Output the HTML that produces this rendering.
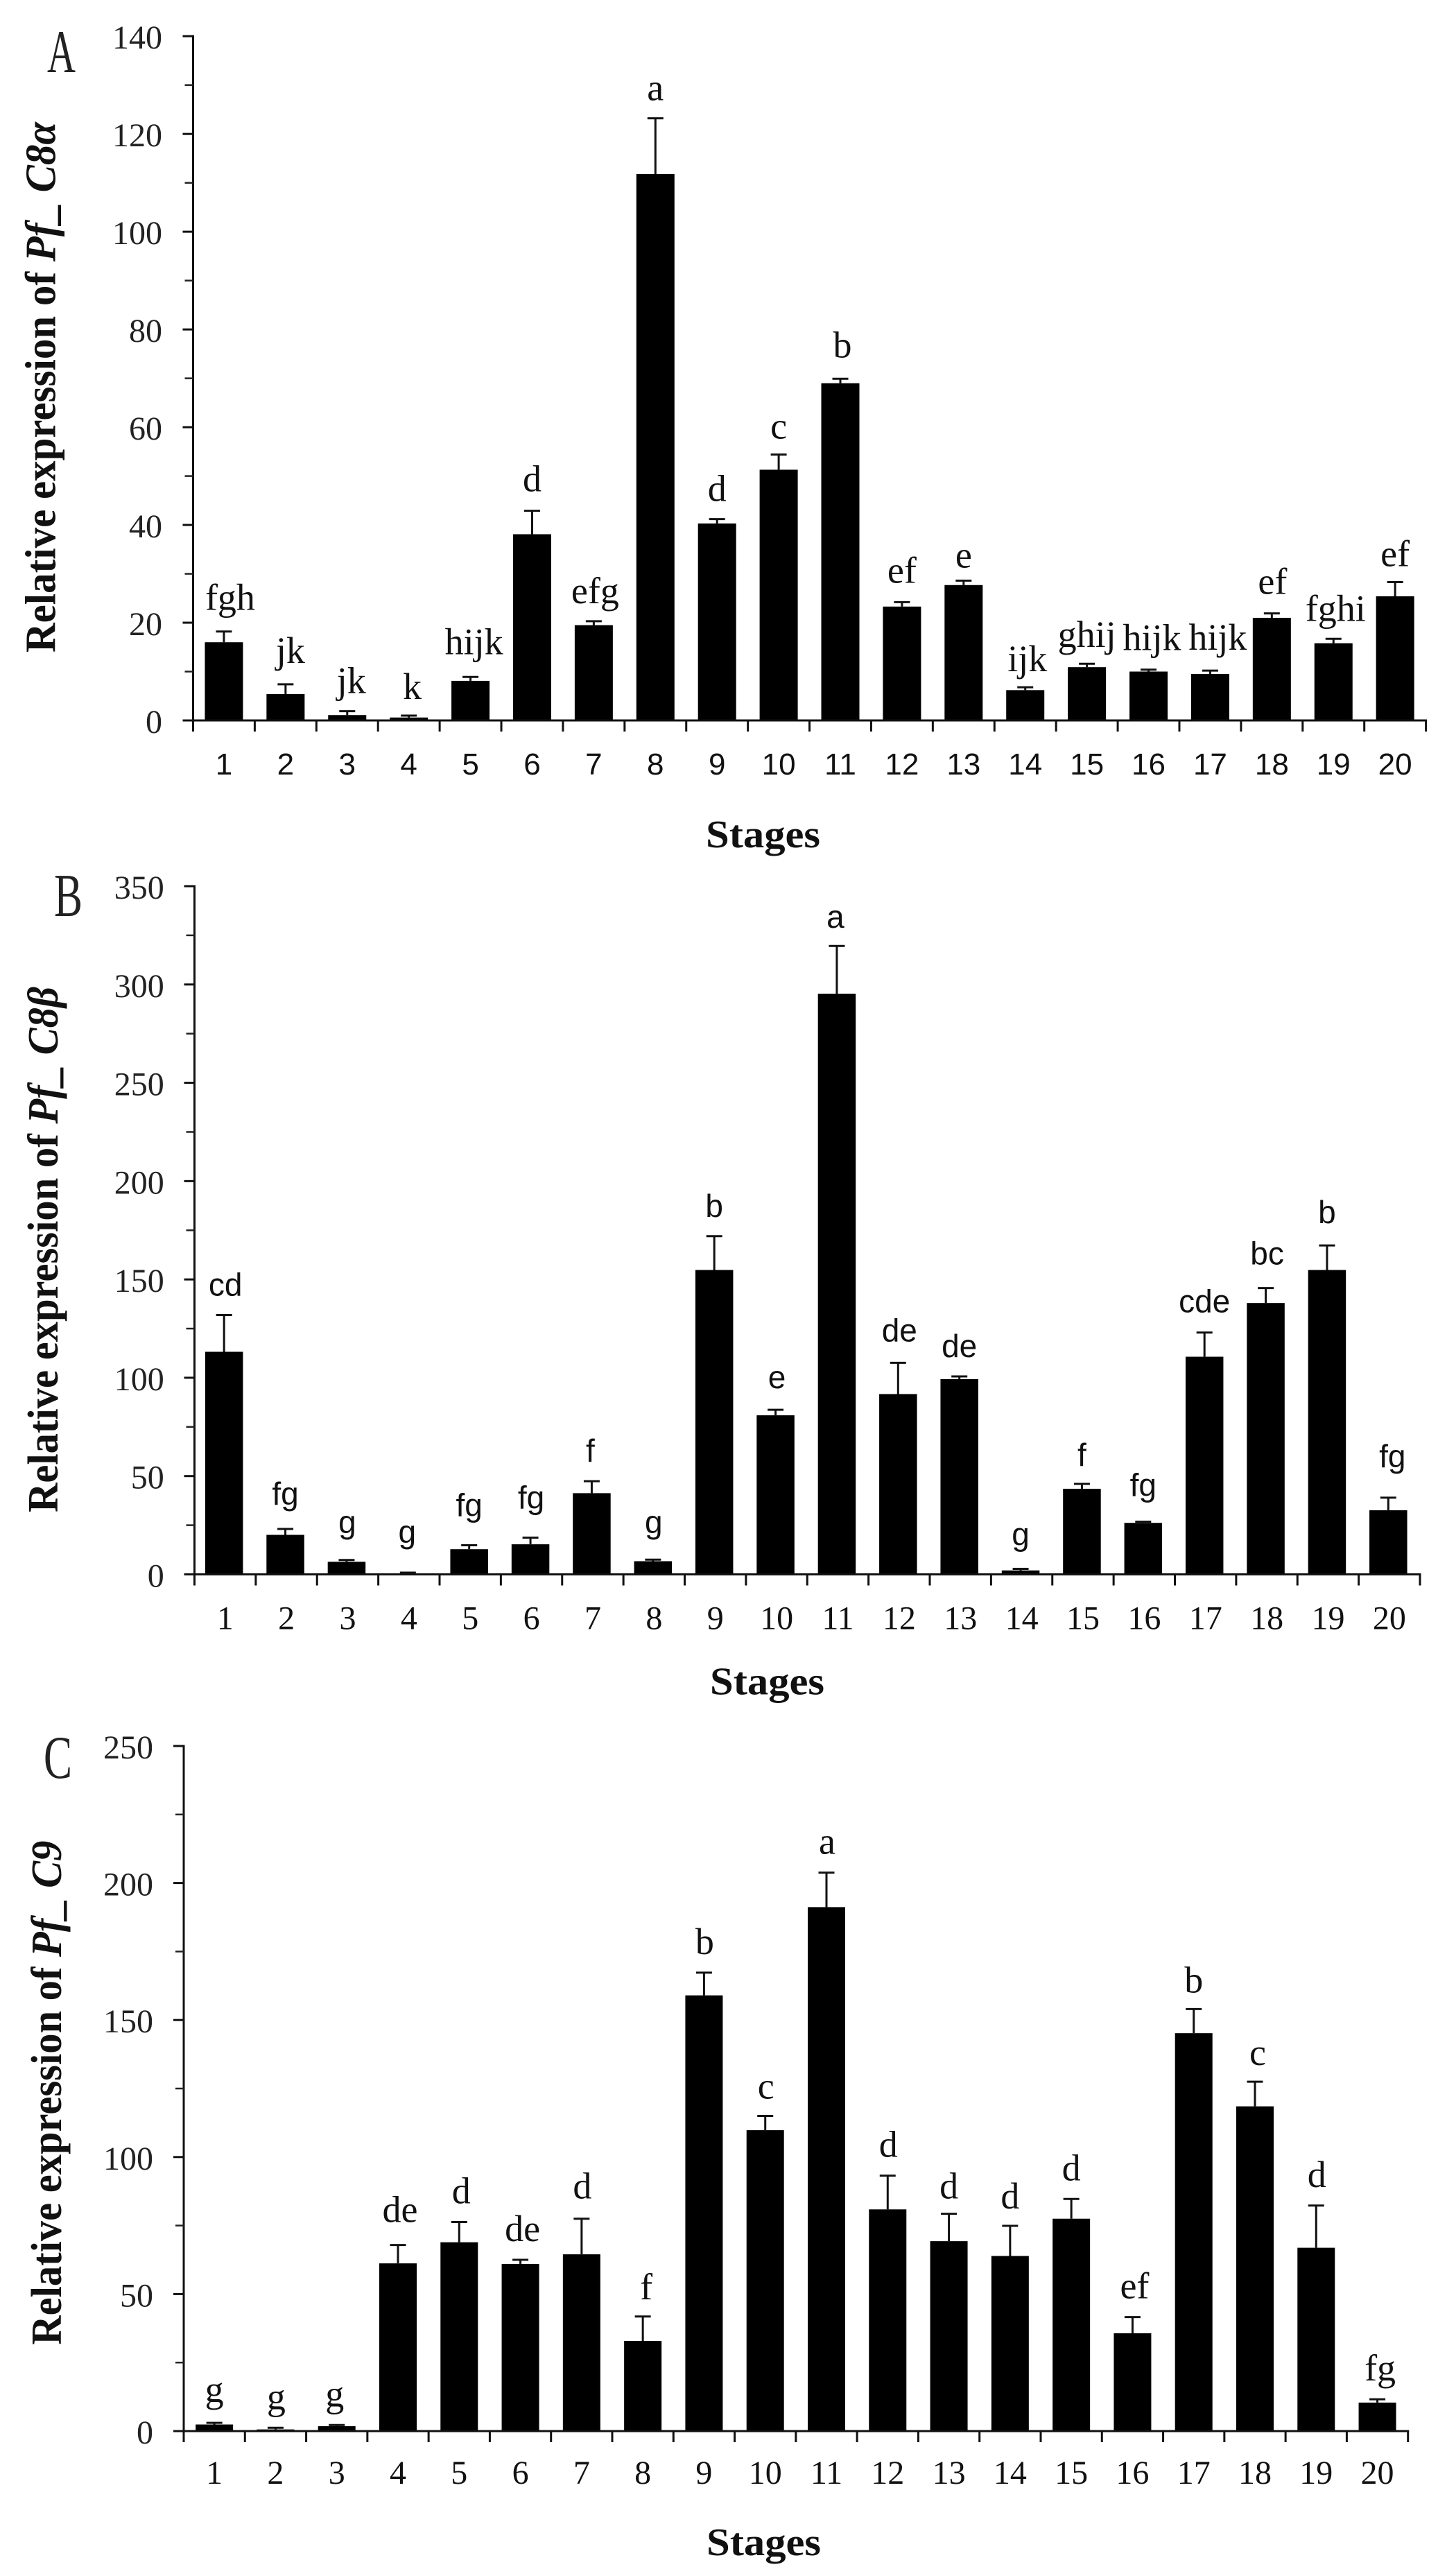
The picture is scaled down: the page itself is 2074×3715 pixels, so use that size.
<!DOCTYPE html>
<html lang="en">
<head>
<meta charset="utf-8">
<title>Relative expression of Pf_C8α, Pf_C8β and Pf_C9 across stages</title>
<style>
html,body{margin:0;padding:0;background:#fff;}
svg{display:block;}
</style>
</head>
<body>
<svg id="figure" xmlns="http://www.w3.org/2000/svg" width="2074" height="3715" viewBox="0 0 2074 3715"></svg>
<script>
const stages = ['1','2','3','4','5','6','7','8','9','10','11','12','13','14','15','16','17','18','19','20'];

const yTicksA = [0,20,40,60,80,100,120,140];
const valuesA = [16.0,5.4,1.1,0.6,8.1,38.1,19.5,111.8,40.3,51.3,69.0,23.3,27.7,6.2,10.9,10.0,9.5,21.0,15.8,25.4];
const errorsA = [2.2,2.0,0.8,0.4,0.8,4.8,0.8,11.4,0.9,3.1,0.9,0.9,0.9,0.6,0.7,0.4,0.7,0.9,0.9,2.9];
const lettersA = ['fgh','jk','jk','k','hijk','d','efg','a','d','c','b','ef','e','ijk','ghij','hijk','hijk','ef','fghi','ef'];

const yTicksB = [0,50,100,150,200,250,300,350];
const valuesB = [113.2,20.1,6.4,0.5,12.8,15.3,41.3,6.7,154.8,80.9,295.3,91.7,99.3,2.0,43.5,26.2,110.7,138.0,154.8,32.6];
const errorsB = [18.7,3.0,0.9,0.4,2.0,3.4,6.1,0.8,17.2,2.8,24.3,15.9,1.4,0.8,2.5,0.6,12.3,7.6,12.5,6.4];
const lettersB = ['cd','fg','g','g','fg','fg','f','g','b','e','a','de','de','g','f','fg','cde','bc','b','fg'];

const yTicksC = [0,50,100,150,200,250];
const valuesC = [2.4,0.6,1.8,61.2,68.9,61.0,64.5,32.9,159.0,109.8,191.2,80.9,69.3,63.9,77.5,35.7,145.2,118.5,66.9,10.4];
const errorsC = [0.6,0.6,0.4,6.7,7.4,1.5,13.0,8.9,8.3,5.2,12.6,12.3,10.0,11.0,7.2,5.9,8.8,9.0,15.4,1.2];
const lettersC = ['g','g','g','de','d','de','d','f','b','c','a','d','d','d','d','ef','b','c','d','fg'];

const SERIF = '"Liberation Serif", serif';
const SANS = '"Liberation Sans", sans-serif';
const NS = 'http://www.w3.org/2000/svg';
const figure = document.getElementById('figure');

function make(parent, tag, props) {
  const el = document.createElementNS(NS, tag);
  for (const k in props) el.setAttribute(k, props[k]);
  parent.appendChild(el);
  return el;
}

function drawPanel(cfg) {
  const g = make(figure, 'g', {});
  
  

  const maxY = cfg.yTicks[cfg.yTicks.length - 1];
  const yScale = v => cfg.y0 - (v / maxY) * (cfg.y0 - cfg.yTop);
  const step = (cfg.xRight - cfg.xLeft) / stages.length;
  const xBand = i => cfg.xLeft + step * i;
  const xCenter = i => xBand(i) + step / 2 + cfg.barShift;

  // panel letter
  const letter = make(g, 'text', {
    x: cfg.letterX, y: cfg.letterY, 'font-family': SERIF, 'font-size': 88, fill: '#222',
    textLength: 41, lengthAdjust: 'spacingAndGlyphs'
  });
  letter.textContent = cfg.id;
  
  

  // bars
  stages.forEach((s, i) => {
    const top = yScale(cfg.values[i]);
    const bar = make(g, 'rect', {
      x: xCenter(i) - cfg.barW / 2, y: top, width: cfg.barW, height: cfg.y0 - top, fill: '#000'
    });
    
    

    const errTop = yScale(cfg.values[i] + cfg.errors[i]);
    const stem = make(g, 'line', {
      x1: xCenter(i), x2: xCenter(i), y1: top, y2: errTop, stroke: '#111', 'stroke-width': 3
    });
    
    
    const cap = make(g, 'line', {
      x1: xCenter(i) - 11.5, x2: xCenter(i) + 11.5, y1: errTop, y2: errTop, stroke: '#111', 'stroke-width': 3
    });
    
    

    const sig = make(g, 'text', {
      x: xCenter(i) + cfg.sigDx[i], y: errTop - cfg.letterGap + cfg.sigDy[i], 'text-anchor': 'middle',
      'font-family': cfg.sigFont, 'font-size': cfg.sigSize, fill: '#111'
    });
    sig.textContent = cfg.letters[i];
    
    

    const tl = make(g, 'text', {
      x: xBand(i) + step / 2, y: cfg.xLabelY, 'text-anchor': 'middle',
      'font-family': cfg.xFont, 'font-size': cfg.xSize, fill: '#111'
    });
    tl.textContent = s;
    
    
  });

  // x axis + ticks
  const xAxis = make(g, 'line', {
    x1: cfg.xLeft - 15, x2: cfg.xRight + 1.5, y1: cfg.y0, y2: cfg.y0, stroke: '#111', 'stroke-width': 3
  });
  
  
  for (let i = 0; i <= stages.length; i++) {
    const t = make(g, 'line', {
      x1: xBand(i), x2: xBand(i), y1: cfg.y0, y2: cfg.y0 + 16, stroke: '#111', 'stroke-width': 3
    });
    
    
  }

  // y axis + ticks
  const yAxis = make(g, 'line', {
    x1: cfg.xLeft, x2: cfg.xLeft, y1: cfg.yTop - 1.5, y2: cfg.y0 + 1.5, stroke: '#111', 'stroke-width': 3
  });
  
  
  cfg.yTicks.forEach((v, i) => {
    const y = yScale(v);
    const t = make(g, 'line', {
      x1: cfg.xLeft - 15, x2: cfg.xLeft, y1: y, y2: y, stroke: '#111', 'stroke-width': 3
    });
    
    
    const lab = make(g, 'text', {
      x: cfg.yLabelX, y: y + 18, 'text-anchor': 'end', 'font-family': SERIF, 'font-size': 48, fill: '#222'
    });
    lab.textContent = String(v);
    
    
    if (i < cfg.yTicks.length - 1) {
      const ym = yScale((v + cfg.yTicks[i + 1]) / 2);
      const mt = make(g, 'line', {
        x1: cfg.xLeft - 12, x2: cfg.xLeft, y1: ym, y2: ym, stroke: '#222', 'stroke-width': 2.5
      });
      
      
    }
  });

  // y title
  const title = make(g, 'text', {
    transform: 'translate(' + cfg.titleX + ',' + cfg.titleBottom + ') rotate(-90)',
    'font-family': SERIF, 'font-size': 62, 'font-weight': 'bold', fill: '#111',
    textLength: cfg.titleLen, lengthAdjust: 'spacingAndGlyphs'
  });
  
  
  const t1 = make(title, 'tspan', {});
  t1.textContent = 'Relative expression of ';
  const t2 = make(title, 'tspan', { 'font-style': 'italic' });
  t2.textContent = cfg.gene;

  // x title
  const xTitle = make(g, 'text', {
    x: cfg.stagesX, y: cfg.stagesY, 'font-family': SERIF, 'font-size': 56, 'font-weight': 'bold', fill: '#111',
    textLength: 165, lengthAdjust: 'spacingAndGlyphs'
  });
  xTitle.textContent = 'Stages';
  
  
}

drawPanel({
  id: 'A', gene: 'Pf_ C8α', yTicks: yTicksA, values: valuesA, errors: errorsA, letters: lettersA,
  xLeft: 278.5, xRight: 2056.6, yTop: 52.2, y0: 1039, barW: 55, barShift: 0,
  letterX: 68, letterY: 104, letterGap: 26, sigFont: SERIF, sigSize: 54,
  sigDx: [9,7,6,5,5,0,2,0,0,0,3,0,0,3,0,5,11,1,3,0],
  sigDy: [-5,-5,0,2,-7,-2,0,0,0,3,-5,-2,7,3,2,-2,-4,-2,0,3],
  xLabelY: 1117, xFont: SANS, xSize: 44, yLabelX: 234,
  titleX: 79.6, titleBottom: 941, titleLen: 765, stagesX: 1018, stagesY: 1222
});
drawPanel({
  id: 'B', gene: 'Pf_ C8β', yTicks: yTicksB, values: valuesB, errors: errorsB, letters: lettersB,
  xLeft: 280.5, xRight: 2048, yTop: 1278, y0: 2270.5, barW: 54.5, barShift: -1.5,
  letterX: 78, letterY: 1321, letterGap: 26, sigFont: SANS, sigSize: 46,
  sigDx: [2,0,1,-1,0,1,-2,1,0,2,-2,2,0,0,0,0,0,2,0,6],
  sigDy: [-2,-9,-13,-17,-16,-16,-2,-12,-2,-5,0,-5,-2,-8,0,-11,-3,-8,-6,-18],
  xLabelY: 2349.5, xFont: SERIF, xSize: 48, yLabelX: 236.7,
  titleX: 83, titleBottom: 2181, titleLen: 758, stagesX: 1024, stagesY: 2443.6
});
drawPanel({
  id: 'C', gene: 'Pf_ C9', yTicks: yTicksC, values: valuesC, errors: errorsC, letters: lettersC,
  xLeft: 265, xRight: 2030.7, yTop: 2518, y0: 3506, barW: 54, barShift: 0,
  letterX: 63, letterY: 2564, letterGap: 27, sigFont: SERIF, sigSize: 54,
  sigDx: [0,1,-3,3,3,3,1,5,1,1,1,1,0,0,0,3,0,4,1,4],
  sigDy: [-3,0,0,-6,0,0,-2,2,0,2,0,0,5,2,0,0,3,3,0,0],
  xLabelY: 3582, xFont: SERIF, xSize: 48, yLabelX: 221,
  titleX: 88, titleBottom: 3381.6, titleLen: 727, stagesX: 1019, stagesY: 3685
});
</script>
</body>
</html>
